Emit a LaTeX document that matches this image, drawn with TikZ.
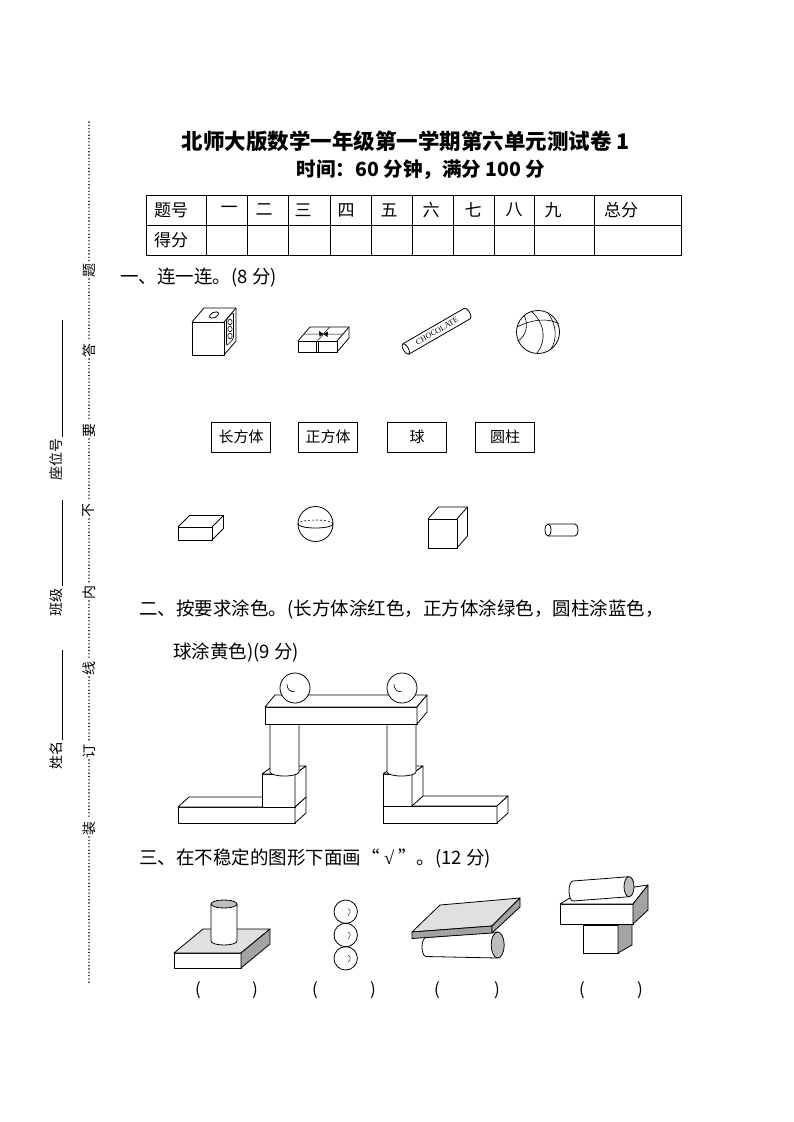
\documentclass[tikz,border=0pt]{standalone}
\usepackage{fontspec}
\setmainfont{Noto Sans CJK SC}
\newfontfamily\latinserif{Liberation Serif}
\usepackage{tikz}
\definecolor{lgray}{gray}{0.88}
\definecolor{mgray}{gray}{0.74}
\definecolor{dgray}{gray}{0.64}

\begin{document}
\begin{tikzpicture}[x=1pt, y=-1pt, line width=0.8pt, line join=round,
  every node/.style={inner sep=0pt},
  ttl/.style={font=\bfseries\fontsize{21.5}{21.5}\selectfont},
  sub/.style={font=\bfseries\fontsize{19.5}{19.5}\selectfont},
  cell/.style={font=\fontsize{17}{17}\selectfont},
  hd/.style={anchor=west, font=\fontsize{18.5}{18.5}\selectfont},
  card/.style={draw, line width=0.7pt, minimum width=59pt, minimum height=30pt, font=\fontsize{15}{15}\selectfont},
  par/.style={font=\fontsize{17}{17}\selectfont},
  side/.style={rotate=90, font=\fontsize{14}{14}\selectfont},
  dotline/.style={line width=1.6pt, line cap=round, dash pattern=on 0pt off 3.3pt}]
\useasboundingbox (0,0) rectangle (794,1122);

\node[ttl] (T0N1) at (406,141) {北师大版数学一年级第一学期第六单元测试卷 1};
\node[sub] (T0N2) at (421,170) {时间：60 分钟，满分 100 分};

\draw (146,195) rectangle (681,255);
\draw (146,225) -- (681,225);
\foreach \x in {206,247,288,330,371,412,453,494,534,594}
  \draw (\x,195) -- (\x,255);
\node[cell] (TBN0) at (171,210) {题号};
\foreach \t/\x [count=\i] in {一/229,二/264,三/303,四/346,五/389,六/431,七/473,八/514,九/553,总分/621}
  \node[cell] (TBN\i) at (\x,210) {\t};
\node[cell] (TBS) at (171,240) {得分};

\foreach \t/\y [count=\i] in {题/270,答/350,要/430,不/510,内/592,线/668,订/751,装/828}
  \node[side] (M\i) at (89,\y) {\t};
\foreach \a/\b in {122/261,279/341,359/421,439/501,519/583,601/659,677/742,760/819,837/983}
  \draw[dotline] (89,\a) -- (89,\b);
\node[side] (F1) at (56,459) {座位号};
\draw (62,320) -- (62,437);
\node[side] (F2) at (56,602) {班级};
\draw (62,500) -- (62,586);
\node[side] (F3) at (56,755) {姓名};
\draw (62,650) -- (62,740);

\node[hd] (Q1N0) at (120,278) {一、连一连。(8 分)};

\draw (192,322) rectangle (224,355);
\draw (192,322) -- (204,308) -- (236,308) -- (236,341) -- (224,355);
\draw (224,322) -- (236,308);
\draw[rotate around={25:(214,315)}] (214,315) ellipse (5 and 2.6);
\draw[line width=0.6pt, rounded corners=2pt] (226.5,319) -- (233.5,312) -- (233.5,339) -- (226.5,346) -- cycle;
\foreach \y in {322,329,336}
  \draw[line width=0.6pt] (230,\y) ellipse (2.2 and 2.8);

\draw (298,341) rectangle (337,352);
\draw (298,341) -- (310,327) -- (349,327) -- (349,338) -- (337,352);
\draw (337,341) -- (349,327);
\draw[line width=0.5pt] (316.5,341) -- (316.5,352) (318.5,341) -- (318.5,352);
\draw[line width=0.5pt] (317.5,341) -- (329.5,327) (304,334) -- (343,334);
\fill (323.5,334) -- (319,331) -- (319.5,336.5) -- cycle;
\fill (323.5,334) -- (328,331.5) -- (327.5,337) -- cycle;

\begin{scope}[shift={(437,331)}, rotate=30]
\draw[fill=white] (-36,-6) -- (35,-6) arc[start angle=90, end angle=-90, x radius=2.5pt, y radius=6pt] -- (-36,6);
\draw (-36,0) ellipse (2.5 and 6);
\node[transform shape, font=\latinserif\fontsize{8}{8}\selectfont] (Q1C) at (0,0) {CHOCOLATE};
\end{scope}

\draw (538,332) circle (21.5);
\draw[line width=0.6pt] (531,311) .. controls (546,324) and (546,342) .. (537,353);
\draw[line width=0.6pt] (517,327) .. controls (530,320) and (548,317) .. (559,324);
\draw[line width=0.6pt] (518,341) .. controls (526,336) and (529,325) .. (524,315);
\draw[line width=0.6pt] (548,313) .. controls (557,325) and (557,340) .. (551,349);

\foreach \t/\x [count=\i] in {长方体/241,正方体/328,球/417,圆柱/505}
  \node[card] (Q1N\i) at (\x,437) {\t};

\draw (178,527) rectangle (212,540);
\draw (178,527) -- (189.5,515.5) -- (223.5,515.5) -- (223.5,528.5) -- (212,540);
\draw (212,527) -- (223.5,515.5);

\draw (315.5,524) circle (17.5);
\draw (298,524) arc[start angle=180, end angle=360, x radius=17.5pt, y radius=4pt];
\draw[line width=0.6pt, dash pattern=on 2pt off 2pt] (333,524) arc[start angle=0, end angle=180, x radius=17.5pt, y radius=4pt];

\draw (428,519) rectangle (457,548);
\draw (428,519) -- (438.5,507) -- (467.5,507) -- (467.5,536) -- (457,548);
\draw (457,519) -- (467.5,507);

\draw (548,530) ellipse (3 and 6);
\draw (548,524) -- (575,524) arc[start angle=90, end angle=-90, x radius=3pt, y radius=6pt] -- (548,536);

\node[hd] (Q2N0) at (139,609) {二、按要求涂色。(长方体涂红色，正方体涂绿色，圆柱涂蓝色，};
\node[hd] (Q2N1) at (173,652) {球涂黄色)(9 分)};

\draw[fill=white] (178,807) rectangle (295,823);
\draw[fill=white] (178,807) -- (189,797) -- (306,797) -- (295,807) -- cycle;
\draw[fill=white] (295,807) -- (306,797) -- (306,813) -- (295,823) -- cycle;
\draw[fill=white] (262,774) rectangle (295,807);
\draw[fill=white] (262,774) -- (273,766) -- (306,766) -- (295,774) -- cycle;
\draw[fill=white] (295,774) -- (306,766) -- (306,797) -- (295,807) -- cycle;
\draw[fill=white] (270,720) -- (270,772) arc[start angle=180, end angle=360, x radius=14.5pt, y radius=4pt] -- (299,720);

\draw[fill=white] (383,806) rectangle (497,823);
\draw[fill=white] (383,806) -- (394,796) -- (508,796) -- (497,806) -- cycle;
\draw[fill=white] (497,806) -- (508,796) -- (508,813) -- (497,823) -- cycle;
\draw[fill=white] (383,774) rectangle (412,806);
\draw[fill=white] (383,774) -- (394,766) -- (423,766) -- (412,774) -- cycle;
\draw[fill=white] (412,774) -- (423,766) -- (423,796) -- (412,806) -- cycle;
\draw[fill=white] (387,720) -- (387,772) arc[start angle=180, end angle=360, x radius=14.5pt, y radius=4pt] -- (416,720);

\draw[fill=white] (265,707) rectangle (417,724);
\draw[fill=white] (265,707) -- (275,695) -- (427,695) -- (417,707) -- cycle;
\draw[fill=white] (417,707) -- (427,695) -- (427,712) -- (417,724) -- cycle;

\draw[fill=white] (295,688) circle (15);
\draw[fill=white] (402,688) circle (15);
\draw[line width=0.6pt] (287,684) arc[start angle=175, end angle=285, x radius=6pt, y radius=7pt];
\draw[line width=0.6pt] (394,684) arc[start angle=175, end angle=285, x radius=6pt, y radius=7pt];

\node[hd] (Q3N0) at (139,858) {三、在不稳定的图形下面画“ {\latinserif √} ”。(12 分)};

\draw[fill=white] (174,953) rectangle (241,968);
\draw[fill=lgray] (174,953) -- (203,929) -- (270,929) -- (241,953) -- cycle;
\draw[fill=dgray] (241,953) -- (270,929) -- (270,944) -- (241,968) -- cycle;
\draw[fill=white] (211,904) -- (211,941) arc[start angle=180, end angle=360, x radius=13pt, y radius=4pt] -- (237,904);
\draw[fill=mgray] (224,904) ellipse (13 and 4);

\foreach \y in {911.7,935,958.3} {
  \draw (345.7,\y) circle (11.7);
  \draw[line width=0.4pt] (348,\y-3) .. controls (351,\y-2) and (351,\y+1) .. (348,\y+4);
}

\draw[fill=white] (497.7,932) -- (426,937.5) arc[start angle=90, end angle=270, x radius=4pt, y radius=9.5pt] -- (497.7,958);
\draw[fill=mgray] (497.7,945) ellipse (6.5 and 13);
\draw[fill=lgray] (412,932) -- (440,905) -- (520,898) -- (492,926) -- cycle;
\draw[fill=dgray] (412,932) -- (492,926) -- (492,933) -- (412,938.5) -- cycle;
\draw[fill=dgray] (492,926) -- (520,898) -- (520,907) -- (492,933) -- cycle;

\draw[fill=white] (583,925) rectangle (618,953);
\draw[fill=dgray] (618,925) -- (632,915) -- (632,945) -- (618,953) -- cycle;
\draw[fill=white] (560,904) rectangle (633,924);
\draw[fill=white] (560,904) -- (573,896) -- (648,885) -- (633,904) -- cycle;
\draw[fill=dgray] (633,904) -- (648,885) -- (648,910) -- (633,924) -- cycle;
\draw[fill=white] (629,876.7) -- (573,881) arc[start angle=90, end angle=270, x radius=4pt, y radius=10pt] -- (629,896.7);
\draw[fill=mgray] (629,886.7) ellipse (5 and 10);

\foreach \a/\b [count=\i] in {198/255,315/373,437/497,582/640} {
  \node[par] (Q3L\i) at (\a,990) {(};
  \node[par] (Q3R\i) at (\b,990) {)};
}
\end{tikzpicture}
\end{document}
